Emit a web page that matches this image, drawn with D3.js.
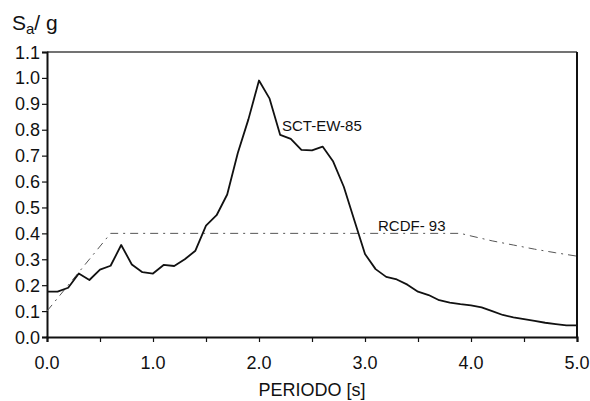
<!DOCTYPE html>
<html>
<head>
<meta charset="utf-8">
<script src="https://cdn.jsdelivr.net/npm/d3@7"></script>
<style>
body { margin: 0; background: #fff; }
text { font-family: Arial, "Liberation Sans", sans-serif; fill: #111; }
</style>
</head>
<body>
<script>
// periods [s] and spectral ordinates Sa/g
var periods = [0.0, 0.1, 0.2, 0.3, 0.4, 0.5, 0.6, 0.7, 0.8, 0.9,
    1.0, 1.1, 1.2, 1.3, 1.4, 1.5, 1.6, 1.7, 1.8, 1.9,
    2.0, 2.1, 2.2, 2.3, 2.4, 2.5, 2.6, 2.7, 2.8, 2.9,
    3.0, 3.1, 3.2, 3.3, 3.4, 3.5, 3.6, 3.7, 3.8, 3.9,
    4.0, 4.1, 4.2, 4.3, 4.4, 4.5, 4.6, 4.7, 4.8, 4.9, 5.0];
var sctEw85 = [0.175, 0.175, 0.19, 0.245, 0.22, 0.26, 0.275, 0.355, 0.28, 0.25,
    0.245, 0.278, 0.274, 0.30, 0.333, 0.43, 0.47, 0.55, 0.71, 0.84,
    0.99, 0.92, 0.78, 0.765, 0.722, 0.72, 0.735, 0.677, 0.58, 0.45,
    0.32, 0.262, 0.232, 0.222, 0.202, 0.175, 0.162, 0.142, 0.133, 0.127,
    0.122, 0.114, 0.10, 0.085, 0.076, 0.069, 0.062, 0.055, 0.05, 0.045, 0.045];

var rcdfT = [0.0, 0.6, 3.9, 4.0, 4.2, 4.4, 4.6, 4.8, 5.0];
var rcdfSa = [0.1, 0.4, 0.4, 0.39, 0.371, 0.355, 0.339, 0.325, 0.312];

var xTicks = [0, 0.5, 1, 1.5, 2, 2.5, 3, 3.5, 4, 4.5, 5];
var xLabels = [0, 1, 2, 3, 4, 5];
var yTicks = [0, 0.1, 0.2, 0.3, 0.4, 0.5, 0.6, 0.7, 0.8, 0.9, 1.0, 1.1];

var width = 590, height = 401;
var svg = d3.select("body").append("svg").attr("width", width).attr("height", height);

var x = d3.scaleLinear().domain([0, 5]).range([47, 577]);
var y = d3.scaleLinear().domain([0, 1.1]).range([337, 52]);

// frame top and right
svg.append("line").attr("x1", x(0)).attr("x2", x(5)).attr("y1", y(1.1)).attr("y2", y(1.1))
    .attr("stroke", "#444").attr("stroke-width", 1.5);
svg.append("line").attr("x1", x(5)).attr("x2", x(5)).attr("y1", y(1.1)).attr("y2", y(0))
    .attr("stroke", "#111").attr("stroke-width", 2);

// x axis
var xAxis = d3.axisBottom(x).tickValues(xTicks).tickSize(5).tickFormat("");
var gx = svg.append("g").attr("transform", "translate(0," + y(0) + ")").call(xAxis);
gx.select(".domain").attr("stroke", "#111").attr("stroke-width", 2.2);
gx.selectAll(".tick line").attr("stroke", "#111").attr("stroke-width", 1.2);

svg.selectAll(".xlab").data(xLabels).enter().append("text")
    .attr("class", "xlab")
    .attr("x", function (d) { return x(d); })
    .attr("y", 369)
    .attr("text-anchor", "middle")
    .style("font-size", "18px")
    .text(function (d) { return d.toFixed(1); });

// y axis
var yAxis = d3.axisLeft(y).tickValues(yTicks).tickSize(5).tickFormat("");
var gy = svg.append("g").attr("transform", "translate(" + x(0) + ",0)").call(yAxis);
gy.select(".domain").attr("stroke", "#111").attr("stroke-width", 2);
gy.selectAll(".tick line").attr("stroke", "#111").attr("stroke-width", 1.2);

svg.selectAll(".ylab").data(yTicks).enter().append("text")
    .attr("class", "ylab")
    .attr("x", 40)
    .attr("y", function (d) { return y(d) + 6.5; })
    .attr("text-anchor", "end")
    .style("font-size", "18px")
    .text(function (d) { return d.toFixed(1); });

// axis titles
svg.append("text").attr("x", x(2.5)).attr("y", 396).attr("text-anchor", "middle")
    .style("font-size", "18px").text("PERIODO [s]");

var yt = svg.append("text").attr("x", 12).attr("y", 30).style("font-size", "21px");
yt.append("tspan").text("S");
yt.append("tspan").attr("dy", 4).style("font-size", "15px").text("a");
yt.append("tspan").attr("dy", -4).text("/ g");

// RCDF-93 design spectrum
var rcdf = rcdfT.map(function (t, i) { return [t, rcdfSa[i]]; });
svg.append("path").datum(rcdf)
    .attr("fill", "none")
    .attr("stroke", "#555")
    .attr("stroke-width", 1)
    .attr("stroke-dasharray", "8,5,2,5")
    .attr("d", d3.line().x(function (d) { return x(d[0]); }).y(function (d) { return y(d[1]); }));

// SCT-EW-85 response spectrum
var sct = periods.map(function (t, i) { return [t, sctEw85[i]]; });
svg.append("path").datum(sct)
    .attr("fill", "none")
    .attr("stroke", "#111")
    .attr("stroke-width", 1.8)
    .attr("stroke-linejoin", "round")
    .attr("d", d3.line().x(function (d) { return x(d[0]); }).y(function (d) { return y(d[1]); }));

// series labels
svg.append("text").attr("x", 282).attr("y", 131).style("font-size", "15px").text("SCT-EW-85");
svg.append("text").attr("x", 378).attr("y", 231).style("font-size", "15px").text("RCDF- 93");
</script>
</body>
</html>
